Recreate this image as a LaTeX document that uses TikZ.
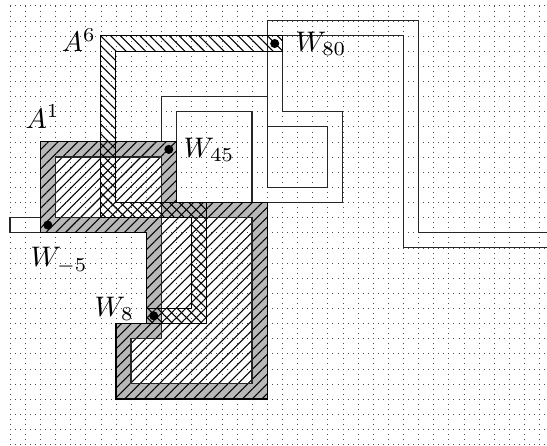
\documentclass[tikz,border=0pt]{standalone}
\usetikzlibrary{patterns.meta}
\tikzset{
  griddots/.style={line width=0.36pt,black!70,dash pattern=on 0.36pt off 3.42pt,dash phase=0.18pt},
  wireline/.style={line width=0.8pt,black!85},
  neHatch/.style={pattern={Lines[angle=45,distance=5.2pt,line width=0.8pt]},pattern color=black},
  nwHatch/.style={pattern={Lines[angle=-45,distance=5.2pt,line width=0.8pt]},pattern color=black},
  edgeLine/.style={line width=0.95pt,black},
  spot/.style={circle,fill=black,inner sep=0pt,minimum size=6.8pt},
  lab/.style={anchor=base west,inner sep=0pt,scale=2.12,transform shape}
}
\begin{document}
\begin{tikzpicture}[x=11.34pt,y=-11.34pt]
\useasboundingbox (-0.661,-0.377) rectangle (35.5,29.05);
\clip (-0.661,-0.377) rectangle (35.5,29.05);
\foreach \j in {0,...,29} \draw[griddots] (0,\j) -- (35.5,\j);
\foreach \k in {0,...,35} \draw[griddots] (\k,0) -- (\k,29.05);
% thin wires
\draw[wireline] (10,9) -- (10,6) -- (17,6) -- (17,12) -- (21,12) -- (21,8) -- (17,8);
\draw[wireline] (11,9) -- (11,7) -- (16,7) -- (16,13) -- (22,13) -- (22,7) -- (18,7) -- (18,2) -- (26,2) -- (26,16) -- (35.6,16);
\draw[wireline] (17,6) -- (17,1) -- (27,1) -- (27,15) -- (35.6,15);
\draw[wireline] (2,14) -- (0,14) -- (0,15) -- (2,15);
% gray strip A1
\fill[black!28,even odd rule]
  (2,9) -- (11,9) -- (11,13) -- (17,13) -- (17,26) -- (7,26) -- (7,21) -- (9,21) -- (9,15) -- (2,15) -- cycle
  (3,10) -- (10,10) -- (10,14) -- (3,14) -- cycle
  (10,14) -- (16,14) -- (16,25) -- (8,25) -- (8,22) -- (10,22) -- cycle;
\path[neHatch] (2,9) -- (11,9) -- (11,13) -- (17,13) -- (17,26) -- (7,26) -- (7,21) -- (9,21) -- (9,15) -- (2,15) -- cycle;
\draw[edgeLine] (2,9) -- (11,9) -- (11,13) -- (17,13) -- (17,26) -- (7,26) -- (7,21) -- (9,21) -- (9,15) -- (2,15) -- cycle;
\draw[wireline] (3,10) -- (10,10) -- (10,14) -- (3,14) -- cycle;
\draw[wireline] (10,14) -- (16,14) -- (16,25) -- (8,25) -- (8,22) -- (10,22) -- cycle;
% strip A6
\path[nwHatch] (6,2) -- (18,2) -- (18,3) -- (7,3) -- (7,13) -- (13,13) -- (13,21) -- (9,21) -- (9,20) -- (12,20) -- (12,14) -- (6,14) -- cycle;
\draw[wireline,black] (6,2) -- (18,2) -- (18,3) -- (7,3) -- (7,13) -- (13,13) -- (13,21) -- (9,21) -- (9,20) -- (12,20) -- (12,14) -- (6,14) -- cycle;
% terminals
\node[spot] (t1) at (2.5,14.5) {};
\node[spot] (t2) at (10.5,9.5) {};
\node[spot] (t3) at (17.5,2.5) {};
\node[spot] (t4) at (9.5,20.5) {};
% labels
\node[lab] (l1) at (3.4,3.06) {$A^6$};
\node[lab] (l2) at (1.0,8.09) {$A^1$};
\node[lab] (l3) at (11.44,10.04) {$W_{45}$};
\node[lab] (l4) at (18.85,3.04) {$W_{80}$};
\node[lab] (l5) at (1.32,17.26) {$W_{-5}$};
\node[lab] (l6) at (5.55,20.52) {$W_{8}$};
\end{tikzpicture}
\end{document}
